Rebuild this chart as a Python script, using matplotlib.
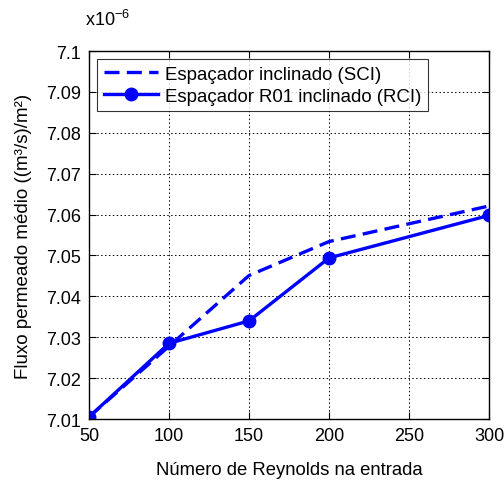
import matplotlib
matplotlib.use("Agg")
import matplotlib.pyplot as plt

plt.rcParams['font.family'] = ['Liberation Sans', 'DejaVu Sans']
plt.rcParams['mathtext.fontset'] = 'custom'
plt.rcParams['mathtext.rm'] = 'Liberation Sans'
plt.rcParams['mathtext.it'] = 'Liberation Sans'

# Reynolds number at the inlet
reynolds = [50, 100, 150, 200, 300]
# Mean permeate flux, in units of 1e-6 (m3/s)/m2
flux_sci = [7.0105, 7.0278, 7.0451, 7.0534, 7.0621]
flux_rci = [7.0105, 7.0285, 7.0340, 7.0494, 7.0598]

x_ticks = [50, 100, 150, 200, 250, 300]
y_ticks = [7.01, 7.02, 7.03, 7.04, 7.05, 7.06, 7.07, 7.08, 7.09, 7.1]
y_tick_labels = ['7.01', '7.02', '7.03', '7.04', '7.05', '7.06', '7.07', '7.08', '7.09', '7.1']

fig = plt.figure(figsize=(5.04, 4.81), dpi=100)
ax = fig.add_axes([0.1766, 0.1268, 0.7937, 0.765])

ax.plot(reynolds, flux_sci, color='#0000ff', linestyle='--', linewidth=2.4,
        dashes=(4.5, 2.2), label='Espaçador inclinado (SCI)')
ax.plot(reynolds, flux_rci, color='#0000ff', linestyle='-', linewidth=2.4,
        marker='o', markersize=9, label='Espaçador R01 inclinado (RCI)')

ax.set_xlim(50, 300)
ax.set_ylim(7.01, 7.1)
ax.set_xticks(x_ticks)
ax.set_yticks(y_ticks)
ax.set_yticklabels(y_tick_labels)
ax.tick_params(direction='in', top=True, right=True, labelsize=13, length=5,
               width=0.8, pad=6)
ax.grid(True, color='black', linestyle=(0, (1.5, 2.5)), linewidth=0.7)
for s in ax.spines.values():
    s.set_linewidth(1.0)

ax.set_xlabel('Número de Reynolds na entrada', fontsize=13.3, labelpad=12)
ax.set_ylabel('Fluxo permeado médio ((m³/s)/m²)', fontsize=13.5, labelpad=10)
fig.text(85 / 504, 1 - 20 / 481, 'x10$^{\\mathrm{-6}}$', fontsize=13,
         ha='left', va='center')

leg = ax.legend(loc='upper left', fontsize=13.4, frameon=True, fancybox=False,
                handlelength=2.9, borderaxespad=0.45, borderpad=0.35,
                labelspacing=0.25, handletextpad=0.4)
leg.get_frame().set_edgecolor('black')
leg.get_frame().set_linewidth(0.8)

fig.savefig('out.png', dpi=100)
